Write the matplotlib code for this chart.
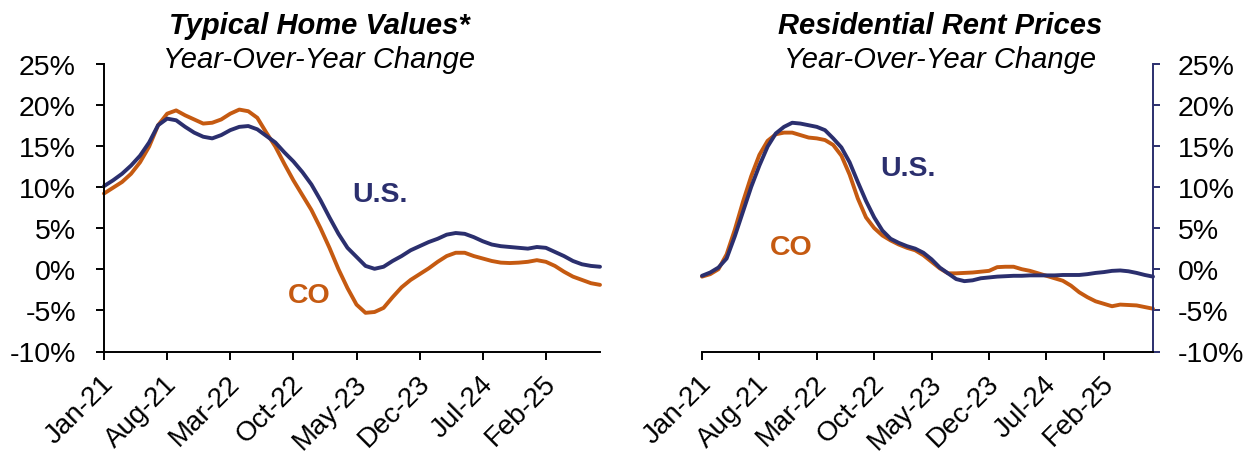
import matplotlib
matplotlib.use("Agg")
import matplotlib.pyplot as plt
import matplotlib.transforms as mtransforms
import numpy as np

plt.rcParams['font.family'] = ['Liberation Sans', 'DejaVu Sans']

# Monthly year-over-year change (%), Jan-21 through Aug-25
home_us = [10.1, 10.8, 11.6, 12.6, 13.8, 15.4, 17.5, 18.3, 18.1, 17.3,
           16.6, 16.1, 15.9, 16.3, 16.9, 17.3, 17.4, 17.0, 16.2, 15.4,
           14.2, 13.1, 11.8, 10.3, 8.4, 6.3, 4.3, 2.6, 1.5, 0.4,
           0.05, 0.3, 1.0, 1.6, 2.3, 2.8, 3.3, 3.7, 4.2, 4.4,
           4.3, 3.9, 3.4, 3.0, 2.8, 2.7, 2.6, 2.5, 2.7, 2.6,
           2.1, 1.6, 1.0, 0.6, 0.4, 0.3]
home_co = [9.2, 9.9, 10.6, 11.6, 13.0, 14.9, 17.5, 18.9, 19.3, 18.7,
           18.2, 17.7, 17.8, 18.2, 18.9, 19.4, 19.2, 18.4, 16.6, 14.9,
           12.8, 10.8, 9.0, 7.2, 5.0, 2.6, 0.0, -2.3, -4.3, -5.3,
           -5.2, -4.7, -3.4, -2.2, -1.3, -0.6, 0.1, 0.9, 1.6, 2.0,
           2.0, 1.6, 1.3, 1.0, 0.8, 0.75, 0.8, 0.9, 1.1, 0.9,
           0.4, -0.3, -0.9, -1.3, -1.7, -1.9]
rent_us = [-0.8, -0.4, 0.2, 1.3, 4.0, 7.0, 10.0, 12.6, 14.9, 16.5,
           17.3, 17.8, 17.7, 17.5, 17.3, 16.9, 15.9, 14.8, 13.0, 10.6,
           8.3, 6.3, 4.7, 3.7, 3.2, 2.8, 2.5, 2.0, 1.2, 0.2,
           -0.5, -1.2, -1.45, -1.35, -1.1, -1.0, -0.9, -0.85, -0.8, -0.8,
           -0.75, -0.75, -0.75, -0.75, -0.7, -0.7, -0.7, -0.6, -0.45, -0.35,
           -0.2, -0.15, -0.25, -0.45, -0.7, -0.9]
rent_co = [-0.9, -0.6, 0.0, 1.8, 4.8, 8.2, 11.3, 13.9, 15.6, 16.4,
           16.6, 16.6, 16.3, 16.0, 15.9, 15.7, 15.1, 13.8, 11.5, 8.6,
           6.3, 5.0, 4.1, 3.5, 3.0, 2.6, 2.3, 1.7, 0.9, 0.1,
           -0.5, -0.5, -0.45, -0.4, -0.3, -0.2, 0.25, 0.3, 0.3, 0.0,
           -0.2, -0.5, -0.8, -1.1, -1.4, -2.0, -2.8, -3.4, -3.9, -4.2,
           -4.5, -4.3, -4.35, -4.4, -4.6, -4.8]

tick_labels = ["Jan-21", "Aug-21", "Mar-22", "Oct-22", "May-23", "Dec-23", "Jul-24", "Feb-25"]
tick_step = 7
y_ticks = [25, 20, 15, 10, 5, 0, -5, -10]
y_tick_labels = ["25%", "20%", "15%", "10%", "5%", "0%", "-5%", "-10%"]

NAVY = "#2B2F6E"
ORANGE = "#C55A11"
FS = 20.5

W, H = 1255, 456
fig = plt.figure(figsize=(W / 100, H / 100), dpi=100)

def px_axes(x0, x1, ytop, ybot):
    return fig.add_axes([x0 / W, 1 - ybot / H, (x1 - x0) / W, (ybot - ytop) / H])

ax1 = px_axes(104, 600, 64.5, 352.5)
ax2 = px_axes(702, 1153, 64.5, 352.5)

x = np.arange(len(home_us))
xt = np.arange(len(tick_labels)) * tick_step

def style(ax, right):
    ax.set_xlim(0, len(x) - 1)
    ax.set_ylim(-10, 25)
    ax.set_yticks(y_ticks)
    ax.set_yticklabels(y_tick_labels, fontsize=FS)
    ax.set_xticks(xt)
    ax.set_xticklabels(tick_labels, fontsize=20, rotation=45,
                       rotation_mode='anchor', ha='right', va='center')
    ax.spines['top'].set_visible(False)
    ax.spines['bottom'].set_linewidth(1.4)
    ax.spines['bottom'].set_color('black')
    ax.tick_params(axis='x', direction='out', length=5.8, width=1.4,
                   color='black', pad=14.2)
    shift = mtransforms.ScaledTranslation(6 / 100, 0, fig.dpi_scale_trans)
    for lab in ax.get_xticklabels():
        lab.set_transform(lab.get_transform() + shift)
    if right:
        ax.spines['left'].set_visible(False)
        ax.spines['right'].set_linewidth(1.4)
        ax.spines['right'].set_color(NAVY)
        ax.yaxis.tick_right()
        ax.tick_params(axis='y', direction='out', length=5, width=1.4,
                       color=NAVY, pad=13)
    else:
        ax.spines['right'].set_visible(False)
        ax.spines['left'].set_linewidth(1.4)
        ax.spines['left'].set_color('black')
        ax.tick_params(axis='y', direction='out', length=5.8, width=1.4,
                       color='black', pad=14.4)

for ax, us, co in [(ax1, home_us, home_co), (ax2, rent_us, rent_co)]:
    ax.plot(x, co, color=ORANGE, lw=2.8, solid_joinstyle='round',
            solid_capstyle='round', clip_on=False)
    ax.plot(x, us, color=NAVY, lw=2.8, solid_joinstyle='round',
            solid_capstyle='round', clip_on=False)

style(ax1, right=False)
style(ax2, right=True)

ax1.text(27.5, 8.3, "U.S.", color=NAVY, fontsize=FS, fontweight='bold',
         ha='left', va='baseline')
ax1.text(20.4, -4.0, "CO", color=ORANGE, fontsize=FS, fontweight='bold',
         ha='left', va='baseline')
ax2.text(21.7, 11.4, "U.S.", color=NAVY, fontsize=FS, fontweight='bold',
         ha='left', va='baseline')
ax2.text(8.3, 1.85, "CO", color=ORANGE, fontsize=FS, fontweight='bold',
         ha='left', va='baseline')

for cx, title in [(319, "Typical Home Values*"), (940, "Residential Rent Prices")]:
    fig.text(cx / W, 1 - 34 / H, title, fontsize=21, fontweight='bold',
             fontstyle='italic', ha='center', va='baseline')
    fig.text(cx / W, 1 - 68.5 / H, "Year-Over-Year Change", fontsize=21,
             fontstyle='italic', ha='center', va='baseline')

fig.savefig("out.png", dpi=100)
